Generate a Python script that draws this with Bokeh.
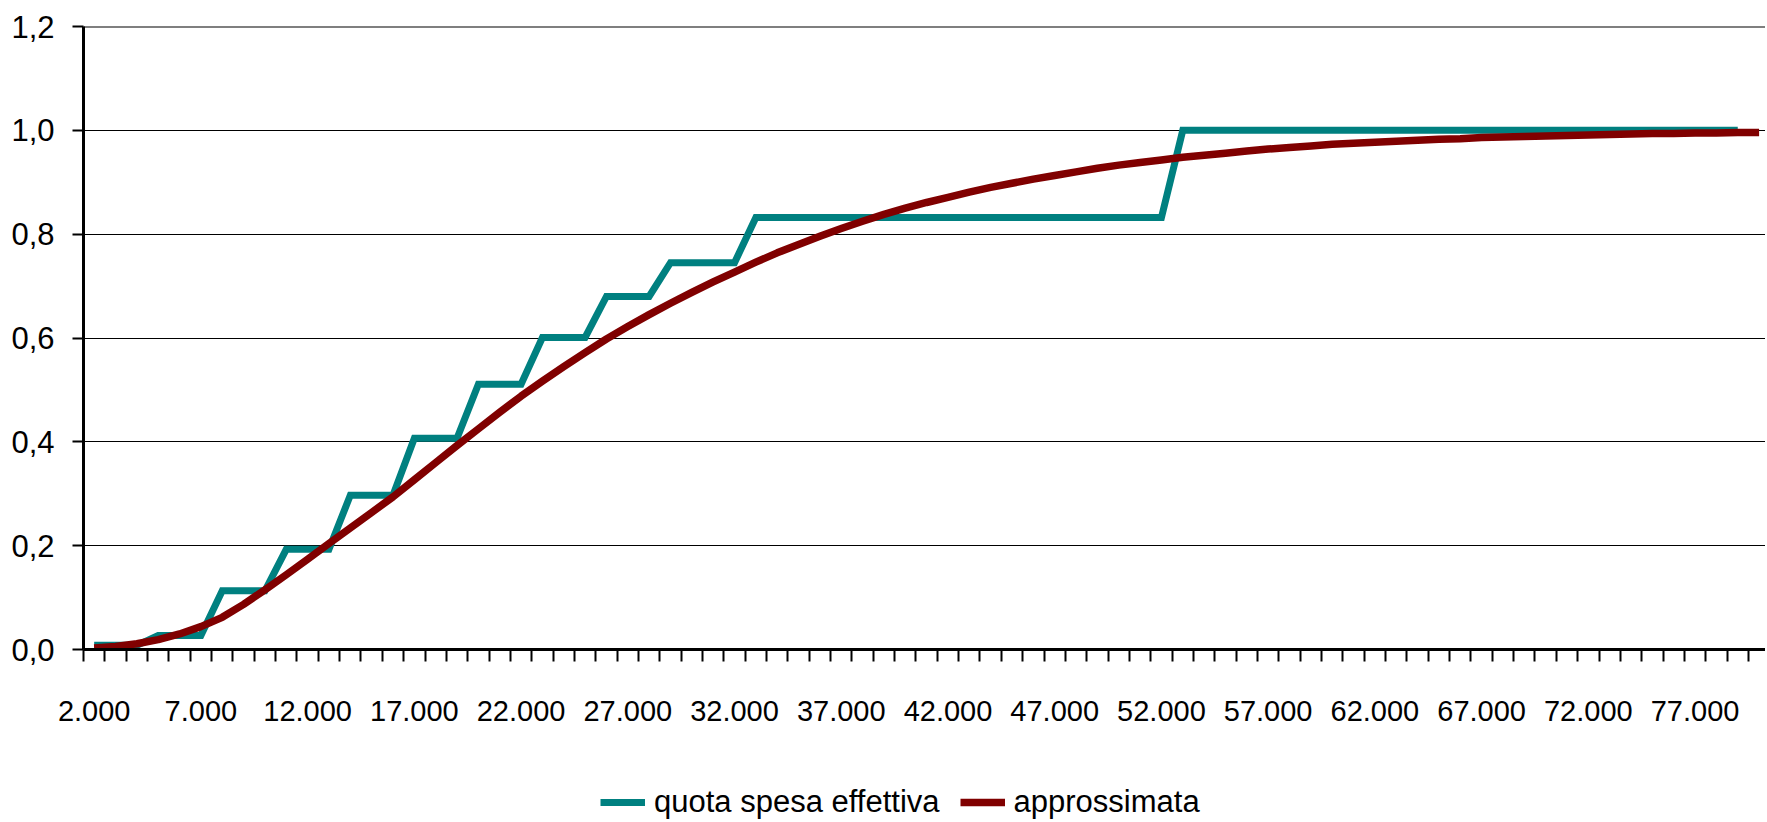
from bokeh.plotting import figure
from bokeh.layouts import column
from bokeh.models import Range1d, FixedTicker, Legend, LegendItem, Span
from bokeh.embed import file_html
from bokeh.resources import INLINE

# ---- data -------------------------------------------------------------
categories = [2000 + 1000 * i for i in range(79)]   # 2.000 ... 80.000

quota_spesa_effettiva = [
    0.008, 0.008, 0.008,
    0.027, 0.027, 0.027,
    0.113, 0.113, 0.113,
    0.193, 0.193, 0.193,
    0.297, 0.297, 0.297,
    0.407, 0.407, 0.407,
    0.511, 0.511, 0.511,
    0.601, 0.601, 0.601,
    0.680, 0.680, 0.680,
    0.745, 0.745, 0.745, 0.745,
    0.832, 0.832, 0.832, 0.832, 0.832, 0.832, 0.832, 0.832, 0.832, 0.832,
    0.832, 0.832, 0.832, 0.832, 0.832, 0.832, 0.832, 0.832, 0.832, 0.832,
    1.0, 1.0, 1.0, 1.0, 1.0, 1.0, 1.0, 1.0, 1.0, 1.0,
    1.0, 1.0, 1.0, 1.0, 1.0, 1.0, 1.0, 1.0, 1.0, 1.0,
    1.0, 1.0, 1.0, 1.0, 1.0, 1.0, 1.0,
]

approssimata = [
    0.003, 0.006, 0.011, 0.019, 0.030, 0.044, 0.062, 0.087, 0.115, 0.144,
    0.174, 0.204, 0.234, 0.264, 0.294, 0.327, 0.360, 0.393, 0.425, 0.457,
    0.488, 0.517, 0.545, 0.572, 0.598, 0.622, 0.645, 0.667, 0.688, 0.708,
    0.727, 0.746, 0.764, 0.780, 0.796, 0.811, 0.825, 0.838, 0.850, 0.861,
    0.871, 0.881, 0.890, 0.898, 0.906, 0.913, 0.920, 0.927, 0.933, 0.938,
    0.943, 0.948, 0.952, 0.956, 0.960, 0.964, 0.967, 0.970, 0.973, 0.975,
    0.977, 0.979, 0.981, 0.983, 0.984, 0.986, 0.987, 0.988, 0.989, 0.990,
    0.991, 0.992, 0.993, 0.994, 0.994, 0.995, 0.995, 0.996, 0.996,
]

x_tick_values = [2000, 7000, 12000, 17000, 22000, 27000, 32000, 37000,
                 42000, 47000, 52000, 57000, 62000, 67000, 72000, 77000]
x_tick_labels = ["2.000", "7.000", "12.000", "17.000", "22.000", "27.000",
                 "32.000", "37.000", "42.000", "47.000", "52.000", "57.000",
                 "62.000", "67.000", "72.000", "77.000"]

y_tick_values = [0.0, 0.2, 0.4, 0.6, 0.8, 1.0, 1.2]
y_tick_labels = ["0,0", "0,2", "0,4", "0,6", "0,8", "1,0", "1,2"]

series_names = ["quota spesa effettiva", "approssimata"]
series_colors = ["#008080", "#800000"]
series_widths = [7, 7.5]

FONT = "Liberation Sans"

# ---- main chart -------------------------------------------------------
p = figure(width=1765, height=740, output_backend="svg", toolbar_location=None,
           x_range=Range1d(1500, 80300), y_range=Range1d(0, 1.2),
           min_border_left=83, min_border_right=0, min_border_top=26,
           min_border_bottom=91)
p.outline_line_color = None
p.background_fill_color = "white"
p.border_fill_color = "white"

p.line(categories[:len(quota_spesa_effettiva)], quota_spesa_effettiva,
       line_color=series_colors[0], line_width=series_widths[0],
       line_join="miter", line_cap="butt")
p.line(categories, approssimata, line_color=series_colors[1],
       line_width=series_widths[1], line_join="round", line_cap="butt")

# x axis (category style: ticks between categories, labels every 5th)
boundaries = [c - 500 for c in categories]
xax = p.xaxis[0]
xax.ticker = FixedTicker(ticks=x_tick_values, minor_ticks=boundaries)
xax.major_label_overrides = {v: t for v, t in zip(x_tick_values, x_tick_labels)}
xax.major_tick_line_color = None
xax.major_tick_out = 0
xax.major_tick_in = 0
xax.minor_tick_line_color = "black"
xax.minor_tick_line_width = 2
xax.minor_tick_out = 12
xax.minor_tick_in = 0
xax.axis_line_color = "black"
xax.axis_line_width = 3
xax.major_label_standoff = 39
xax.major_label_text_font = FONT
xax.major_label_text_font_size = "29px"
xax.major_label_text_color = "black"

yax = p.yaxis[0]
yax.ticker = FixedTicker(ticks=y_tick_values)
yax.major_label_overrides = {v: t for v, t in zip(y_tick_values, y_tick_labels)}
yax.major_tick_line_color = "black"
yax.major_tick_line_width = 2
yax.major_tick_out = 11
yax.major_tick_in = 0
yax.minor_tick_line_color = None
yax.axis_line_color = "black"
yax.axis_line_width = 3
yax.major_label_standoff = 18
yax.major_label_text_font = FONT
yax.major_label_text_font_size = "31px"
yax.major_label_text_color = "black"

p.xgrid.grid_line_color = None
p.ygrid.ticker = FixedTicker(ticks=y_tick_values)
p.ygrid.grid_line_color = "black"
p.ygrid.grid_line_width = 1
p.add_layout(Span(location=y_tick_values[-1], dimension="width",
                  line_color="black", line_width=2))

# ---- legend strip -----------------------------------------------------
pl = figure(width=1765, height=80, output_backend="svg", toolbar_location=None,
            x_range=Range1d(0, 1), y_range=Range1d(0, 1),
            x_axis_location=None, y_axis_location=None,
            min_border_left=0, min_border_right=0, min_border_top=0,
            min_border_bottom=0)
pl.outline_line_color = None
pl.xgrid.grid_line_color = None
pl.ygrid.grid_line_color = None

items = []
for name, col, w in zip(series_names, series_colors, series_widths):
    rr = pl.line([-5, -4], [-5, -4], line_color=col, line_width=w,
                 line_cap="butt")
    items.append(LegendItem(label=name, renderers=[rr]))

legend = Legend(items=items, orientation="horizontal", location=(517, 0),
                padding=0, margin=0, spacing=20, glyph_width=45,
                glyph_height=20, label_height=20, label_standoff=9,
                label_text_font=FONT, label_text_font_size="31px",
                label_text_color="black", border_line_color=None,
                background_fill_alpha=0)
pl.add_layout(legend, "center")

layout = column(p, pl, spacing=0)
open("out.html", "w").write(file_html(layout, INLINE))
